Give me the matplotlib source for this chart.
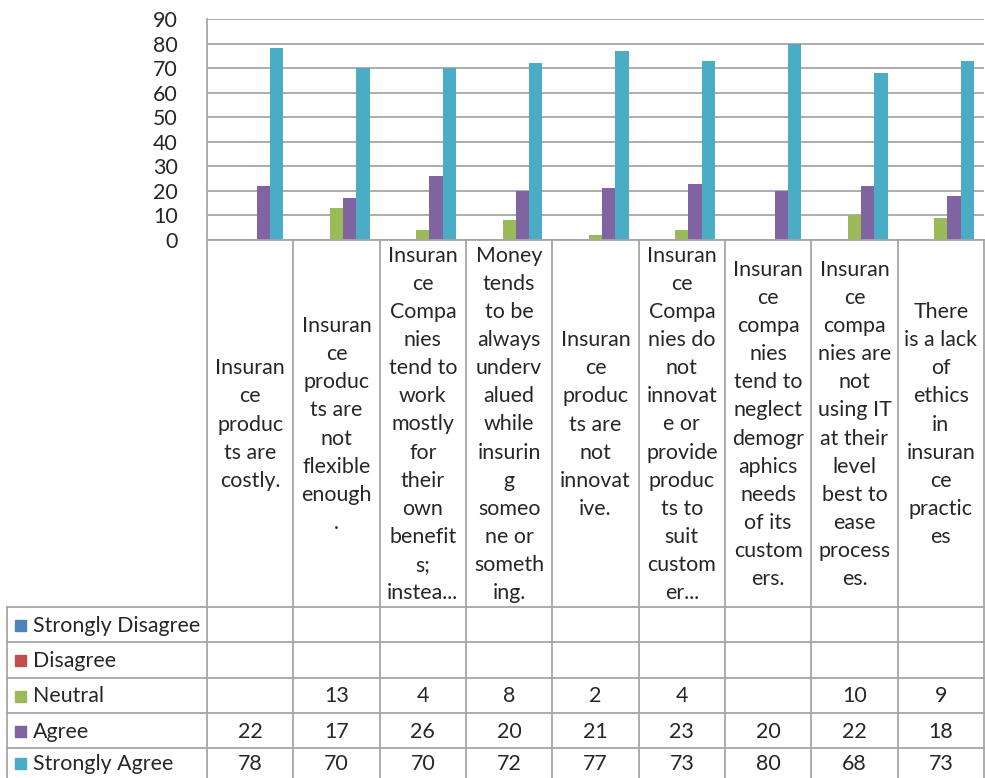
import numpy as np
import matplotlib.pyplot as plt
from matplotlib.patches import Rectangle

# survey statements (wrapped the way the cells show them)
statements = [
    "Insuran\nce\nproduc\nts are\ncostly.",
    "Insuran\nce\nproduc\nts are\nnot\nflexible\nenough\n.",
    "Insuran\nce\nCompa\nnies\ntend to\nwork\nmostly\nfor\ntheir\nown\nbenefit\ns;\ninstea...",
    "Money\ntends\nto be\nalways\nunderv\nalued\nwhile\ninsurin\ng\nsomeo\nne or\nsometh\ning.",
    "Insuran\nce\nproduc\nts are\nnot\ninnovat\nive.",
    "Insuran\nce\nCompa\nnies do\nnot\ninnovat\ne or\nprovide\nproduc\nts to\nsuit\ncustom\ner...",
    "Insuran\nce\ncompa\nnies\ntend to\nneglect\ndemogr\naphics\nneeds\nof its\ncustom\ners.",
    "Insuran\nce\ncompa\nnies are\nnot\nusing IT\nat their\nlevel\nbest to\nease\nprocess\nes.",
    "There\nis a lack\nof\nethics\nin\ninsuran\nce\npractic\nes",
]

series_names = ["Strongly Disagree", "Disagree", "Neutral", "Agree", "Strongly Agree"]
strongly_disagree = [None] * 9
disagree = [None] * 9
neutral = [None, 13, 4, 8, 2, 4, None, 10, 9]
agree = [22, 17, 26, 20, 21, 23, 20, 22, 18]
strongly_agree = [78, 70, 70, 72, 77, 73, 80, 68, 73]
series = [strongly_disagree, disagree, neutral, agree, strongly_agree]
colors = ["#4F81BD", "#C0504D", "#9BBB59", "#8064A2", "#4BACC6"]

W, H = 985, 778
plt.rcParams['font.family'] = ['Lato', 'DejaVu Sans']
txt_color = "#262626"
grid_color = "#A6A6A6"
fs = 15.4

fig = plt.figure(figsize=(W / 100, H / 100), dpi=100)

# layout in pixels
x0, x1 = 207, 984
y_top, y_zero = 19, 240
hdr_bot = 607
row_edges = [607, 642, 678, 713, 748, 784]
leg_left = 7

ax = fig.add_axes([x0 / W, 1 - y_zero / H, (x1 - x0) / W, (y_zero - y_top) / H])
n = len(statements)
ns = len(series)
bw = 1 / (ns + 1.5)
x = np.arange(n)
for i, (vals, c) in enumerate(zip(series, colors)):
    v = np.array([np.nan if a is None else a for a in vals], dtype=float)
    ax.bar(x + (i - (ns - 1) / 2) * bw, np.nan_to_num(v), width=bw, color=c,
           edgecolor='none', zorder=3)
ax.set_xlim(-0.5, n - 0.5)
ax.set_ylim(0, 90)
ax.set_yticks(range(0, 91, 10))
ax.yaxis.grid(True, color=grid_color, linewidth=1.3, zorder=0)
ax.set_xticks([])
for s in ['top', 'right', 'bottom']:
    ax.spines[s].set_visible(False)
ax.spines['left'].set_color(grid_color)
ax.spines['left'].set_linewidth(1.3)
ax.tick_params(axis='y', length=0, pad=21, labelsize=fs, labelcolor=txt_color)

# data table underneath, drawn in pixel coordinates
tb = fig.add_axes([0, 0, 1, 1])
tb.set_xlim(0, W)
tb.set_ylim(H, 0)
tb.axis('off')
cw = (x1 - x0) / n
lw = 1.3

# vertical column lines
for k in range(n + 1):
    xx = x0 + k * cw
    tb.plot([xx, xx], [y_zero, row_edges[-1]], color=grid_color, lw=lw)
tb.plot([leg_left, leg_left], [row_edges[0], row_edges[-1]], color=grid_color, lw=lw)
# horizontal lines
tb.plot([x0, x1], [y_zero, y_zero], color=grid_color, lw=lw)
for yy in row_edges[:-1]:
    tb.plot([leg_left, x1], [yy, yy], color=grid_color, lw=lw)

# statement cells
for k, s in enumerate(statements):
    tb.text(x0 + (k + 0.5) * cw, (y_zero + hdr_bot) / 2 + 1, s, ha='center', va='center',
            fontsize=fs, color=txt_color, linespacing=1.51)

# series rows with legend keys
for r, (name, vals, c) in enumerate(zip(series_names, series, colors)):
    yc = (row_edges[r] + min(row_edges[r + 1], H)) / 2 + 1
    tb.add_patch(Rectangle((15, yc - 6), 11, 11, color=c))
    tb.text(33, yc, name, ha='left', va='center', fontsize=fs, color=txt_color)
    for k, v in enumerate(vals):
        if v is not None:
            tb.text(x0 + (k + 0.5) * cw, yc, str(v), ha='center', va='center',
                    fontsize=fs, color=txt_color)

fig.savefig("out.png", dpi=100)
